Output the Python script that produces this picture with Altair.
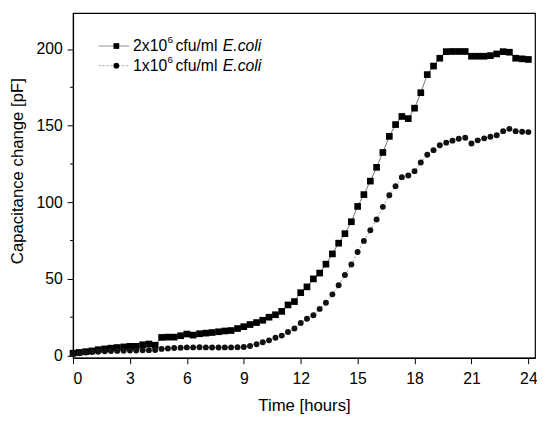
import altair as alt
import pandas as pd

hours = [0, 0.33, 0.67, 1, 1.33, 1.67, 2, 2.33, 2.67, 3, 3.33, 3.67, 4, 4.33, 4.67, 5, 5.33, 5.67,
         6, 6.33, 6.67, 7, 7.33, 7.67, 8, 8.33, 8.67, 9, 9.33, 9.67, 10, 10.33, 10.67, 11, 11.33, 11.67,
         12, 12.33, 12.67, 13, 13.33, 13.67, 14, 14.33, 14.67, 15, 15.33, 15.67, 16, 16.33, 16.67,
         17, 17.33, 17.67, 18, 18.33, 18.67, 19, 19.33, 19.67, 20, 20.33, 20.67, 21, 21.33, 21.67,
         22, 22.33, 22.67, 23, 23.33, 23.67, 24]

ecoli_2e6 = [1.5, 2, 2.5, 3, 3.8, 4.3, 4.8, 5.2, 5.6, 6,
             6, 7, 7.5, 6.7, 11.8, 12, 12, 12.9, 14, 13.3,
             14.2, 14.6, 15, 15.5, 16, 16.3, 17.6, 18.8, 20.2, 21.5,
             23, 25, 26.6, 28.8, 33, 35.2, 41, 44.8, 50, 53.8,
             59.6, 66.3, 73.3, 79.5, 87.3, 97.3, 105, 113.8, 122.8, 132.5,
             143, 150.7, 156, 154.6, 161.4, 171.5, 183.3, 188.9, 194, 198.3,
             198.4, 198.4, 198.4, 195.3, 195.3, 195.3, 195.7, 196.8, 198.3, 197.9,
             194, 193.6, 193.2]

ecoli_1e6 = [1, 1.5, 2, 2.3, 2.5, 2.7, 2.9, 3, 3.1, 3.2,
             3.3, 3.4, 3.5, 3.6, 4.3, 4.6, 4.9, 5.1, 5.3, 5.3,
             5.4, 5.3, 5.2, 5.2, 5.3, 5.3, 5.4, 5.6, 6.2, 7.3,
             8.6, 9.9, 11.6, 13, 15.3, 17.6, 21.2, 24, 26.3, 30.4,
             34.4, 39.9, 45.8, 52.5, 59.4, 67.5, 74.8, 81.7, 88.8, 97,
             104.6, 110.4, 116.4, 117.5, 120.3, 126, 131, 134, 137.2, 138.9,
             140.2, 141.5, 142.1, 138.3, 140.4, 141.7, 142.8, 143.7, 146.4, 147.9,
             146.4, 146, 145.8]

x_ticks = [0, 3, 6, 9, 12, 15, 18, 21, 24]
y_ticks = [0, 50, 100, 150, 200]
y_minor = [25, 75, 125, 175]

FONT = "Liberation Sans"

df = pd.DataFrame({
    "t": hours * 2,
    "c": ecoli_2e6 + ecoli_1e6,
    "s": ["2e6"] * len(hours) + ["1e6"] * len(hours),
})

xs = alt.Scale(domain=[0, 24.35], nice=False, zero=False)
ys = alt.Scale(domain=[-1.5, 223.5], nice=False, zero=False)

X = alt.X("t:Q", scale=xs, axis=alt.Axis(values=x_ticks, title="Time [hours]", grid=False,
                                         format="d", tickSize=6, labelPadding=7, titlePadding=12))
Y = alt.Y("c:Q", scale=ys, axis=alt.Axis(values=y_ticks, title="Capacitance change [pF]", grid=False,
                                         tickSize=6, labelPadding=5, titlePadding=10, titleY=160))

base = alt.Chart(df)

line_sq = base.transform_filter(alt.datum.s == "2e6").mark_line(
    color="#333333", strokeWidth=0.7).encode(x=X, y=Y)
line_ci = base.transform_filter(alt.datum.s == "1e6").mark_line(
    color="#666666", strokeWidth=0.7, strokeDash=[2, 2]).encode(x=X, y=Y)
pts_sq = base.transform_filter(alt.datum.s == "2e6").mark_point(
    shape="square", filled=True, color="black", size=46, opacity=1).encode(x=X, y=Y)
pts_ci = base.transform_filter(alt.datum.s == "1e6").mark_point(
    shape="circle", filled=True, color="#111111", size=36, opacity=1).encode(x=X, y=Y)

minor = alt.Chart(pd.DataFrame({"m": y_minor})).mark_rule(color="black", strokeWidth=1).encode(
    y=alt.Y("m:Q", scale=ys), x=alt.value(-3), x2=alt.value(0))

one = pd.DataFrame({"k": [0]})


def leg_row(yrow, shape, prefix, dash, lcolor):
    seg = alt.Chart(one).mark_rule(color=lcolor, strokeWidth=0.8, strokeDash=dash).encode(
        x=alt.value(26), x2=alt.value(57), y=alt.value(yrow))
    mk = alt.Chart(one).mark_point(shape=shape, filled=True, color="black", size=34, opacity=1).encode(
        x=alt.value(44), y=alt.value(yrow))
    t1 = alt.Chart(one).mark_text(align="left", baseline="middle", font=FONT, fontSize=16, color="black").encode(
        x=alt.value(61), y=alt.value(yrow), text=alt.value(prefix))
    t2 = alt.Chart(one).mark_text(align="left", baseline="middle", font=FONT, fontSize=10, color="black").encode(
        x=alt.value(96), y=alt.value(yrow - 6), text=alt.value("6"))
    t3 = alt.Chart(one).mark_text(align="left", baseline="middle", font=FONT, fontSize=16, color="black").encode(
        x=alt.value(104), y=alt.value(yrow), text=alt.value("cfu/ml"))
    t4 = alt.Chart(one).mark_text(align="left", baseline="middle", font=FONT, fontSize=16, fontStyle="italic",
                                  color="black").encode(
        x=alt.value(152), y=alt.value(yrow), text=alt.value("E.coli"))
    return [seg, mk, t1, t2, t3, t4]


legend = leg_row(33.5, "square", "2x10", [1, 0], "#666666") + leg_row(53.5, "circle", "1x10", [2, 2], "#888888")

chart = alt.layer(line_sq, line_ci, pts_sq, pts_ci, minor, *legend).properties(
    width=469, height=350,
    autosize="none",
    padding={"left": 66, "top": 2, "right": 2, "bottom": 57},
).configure_view(stroke="black", strokeWidth=1.2).configure_axis(
    domainColor="black", domainWidth=1.2, tickColor="black", tickWidth=1,
    labelFont=FONT, titleFont=FONT, labelFontSize=16, titleFontSize=17,
    labelColor="black", titleColor="black", titleFontWeight="normal",
)

chart.save("out.html", embed_options={"renderer": "svg", "actions": False})
